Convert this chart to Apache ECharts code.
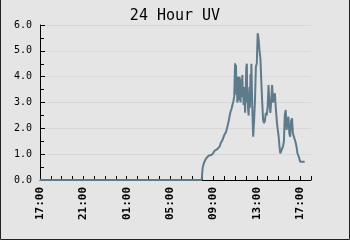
<!DOCTYPE html>
<html>
<head>
<meta charset="utf-8">
<script src="https://cdn.jsdelivr.net/npm/echarts@6/dist/echarts.min.js"></script>
<style>html,body{margin:0;padding:0;background:#e5e5e5;}#c{width:350px;height:240px;}</style>
</head>
<body>
<div id="c"></div>
<script>
var title = '24 Hour UV';
var yTicks = ['0.0','1.0','2.0','3.0','4.0','5.0','6.0'];
var xTickLabels = ['17:00','21:00','01:00','05:00','09:00','13:00','17:00'];
var times = [
 '17:00','18:00','19:00','20:00','21:00','22:00','23:00','00:00','01:00','02:00','03:00','04:00','05:00','06:00','07:00','07:55',
 '08:00','08:05','08:10','08:15','08:20','08:25','08:30','08:35','08:40','08:45','08:50','08:55',
 '09:00','09:05','09:10','09:15','09:20','09:25','09:30','09:35','09:40','09:45','09:50','09:55',
 '10:00','10:05','10:10','10:15','10:20','10:25','10:30','10:35','10:40','10:45','10:50','10:55',
 '11:00','11:02','11:05','11:07','11:10','11:12','11:15','11:17','11:20','11:22','11:25','11:27',
 '11:30','11:32','11:35','11:37','11:40','11:42','11:45','11:47','11:50','11:52','11:55','11:57',
 '12:00','12:02','12:05','12:07','12:10','12:12','12:15','12:17','12:20','12:22','12:25','12:27',
 '12:30','12:35','12:40','12:45','12:50','12:55',
 '13:00','13:05','13:10','13:15','13:20','13:25','13:30','13:35','13:40','13:45','13:50','13:55',
 '14:00','14:05','14:10','14:15','14:20','14:25','14:30','14:35','14:40','14:45','14:50','14:55',
 '15:00','15:05','15:10','15:15','15:20','15:25','15:30','15:35','15:40','15:45','15:50','15:55',
 '16:00','16:05','16:10','16:15','16:20','16:25','16:30','16:35','16:40','16:45','16:50','16:55',
 '17:00','17:05','17:10','17:15','17:20','17:25'
];
var uv = [
 0,0,0,0,0,0,0,0,0,0,0,0,0,0,0,0,
 0.45,0.60,0.71,0.78,0.84,0.87,0.90,0.95,0.97,0.97,0.97,0.97,
 1.05,1.13,1.19,1.19,1.19,1.19,1.26,1.30,1.42,1.48,1.55,1.61,
 1.74,1.80,1.87,2.00,2.15,2.30,2.50,2.65,2.75,2.90,3.03,3.23,
 4.52,3.60,4.45,3.30,3.90,3.00,3.10,4.00,3.70,3.10,4.00,3.30,
 3.00,3.80,3.90,3.20,4.06,3.50,3.40,2.90,2.90,3.60,2.60,3.10,
 3.80,4.40,4.50,3.00,3.20,2.70,2.50,3.30,3.60,2.80,4.10,3.00,
 4.50,2.80,1.68,2.30,3.10,4.40,
 4.50,5.68,5.45,5.00,4.70,3.80,3.00,2.32,2.20,2.30,2.60,2.50,
 2.84,3.68,2.90,2.60,3.10,3.68,3.00,3.20,3.36,2.80,2.35,2.00,
 1.75,1.35,1.03,1.03,1.05,1.30,1.50,2.52,2.71,1.94,2.30,2.45,
 1.80,1.68,2.30,2.39,1.80,1.74,1.74,1.45,1.29,1.03,0.95,0.84,
 0.71,0.77,0.74,0.71,0.71,0.71
];

// convert clock times to hours since the first sample (handles day rollover)
var seriesData = [];
(function(){
  var day = 0, prev = -1;
  var start = parseInt(times[0].slice(0,2),10)*60 + parseInt(times[0].slice(3),10);
  for (var i=0;i<times.length;i++){
    var m = parseInt(times[i].slice(0,2),10)*60 + parseInt(times[i].slice(3),10);
    if (prev >= 0 && m < prev) day++;
    prev = m;
    seriesData.push([(m - start + day*1440)/60, uv[i]]);
  }
})();

var chart = echarts.init(document.getElementById('c'), null, {renderer:'canvas'});
var font = 'DejaVu Sans Mono';
chart.setOption({
  backgroundColor: '#e5e5e5',
  animation: false,
  title: {
    text: title, left: 'center', top: 4,
    textStyle: {fontFamily: font, fontSize: 15, fontWeight: 'normal', color: '#000'}
  },
  grid: {left: 40, right: 39, top: 25, bottom: 60, containLabel: false},
  xAxis: {
    type: 'value', min: 0, max: 25, interval: 1,
    axisLine: {show: true, lineStyle: {color: '#000', width: 1}},
    axisTick: {show: true, inside: true, length: 4, lineStyle: {color: '#000'}},
    splitLine: {show: false},
    axisLabel: {
      rotate: 90, margin: 7, fontFamily: font, fontSize: 11, fontWeight: 'bold', color: '#000',
      formatter: function(v){ return (v % 4 === 0 && xTickLabels[v/4] !== undefined) ? xTickLabels[v/4] : ''; }
    }
  },
  yAxis: {
    type: 'value', min: 0, max: 6, interval: 1,
    axisLine: {show: true, lineStyle: {color: '#000', width: 1}},
    axisTick: {show: true, inside: true, length: 5, lineStyle: {color: '#000'}},
    minorTick: {show: true, splitNumber: 2, length: 4, lineStyle: {color: '#000'}},
    splitLine: {show: true, lineStyle: {color: '#d8d8d8', width: 1}},
    axisLabel: {
      margin: 8, fontFamily: font, fontSize: 10, color: '#000',
      formatter: function(v){ return yTicks[Math.round(v)]; }
    }
  },
  series: [{
    type: 'line', data: seriesData, showSymbol: false, symbol: 'none',
    lineStyle: {color: '#5e7b8c', width: 2}
  }],
  graphic: [{
    type: 'polyline', silent: true,
    shape: {points: [[0.5,0],[0.5,239.5],[349.5,239.5],[349.5,0]]},
    style: {stroke: '#222', lineWidth: 1, fill: null}
  }]
});
</script>
</body>
</html>
